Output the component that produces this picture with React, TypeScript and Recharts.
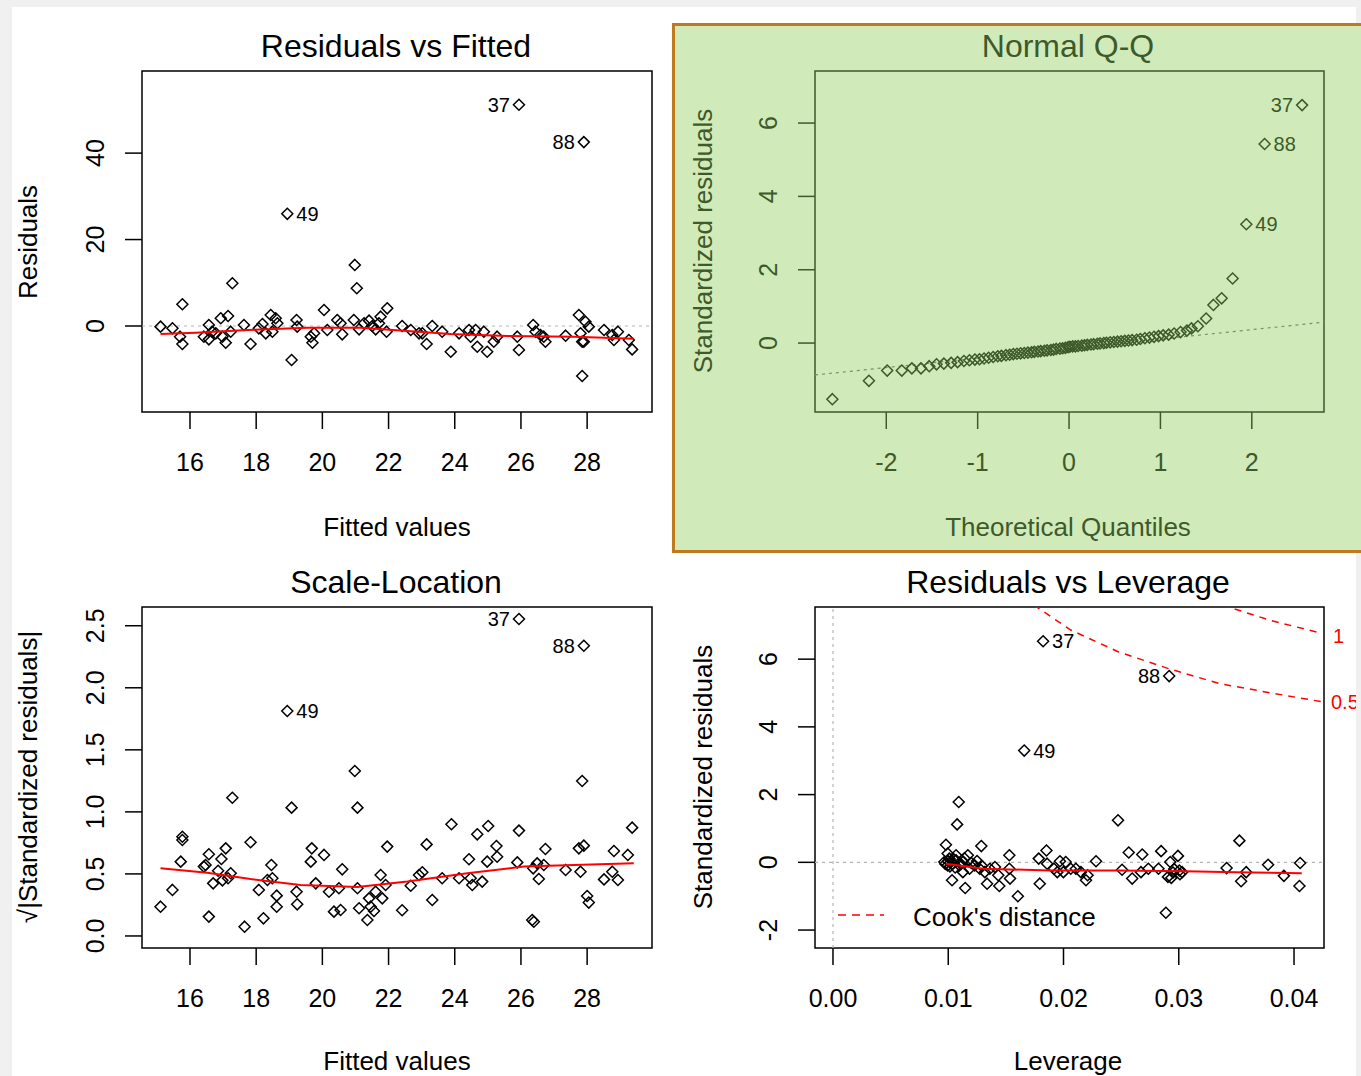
import React from 'react';
import { ScatterChart, Scatter, XAxis, YAxis, ReferenceLine, ReferenceArea } from 'recharts';

const FONT = '"Liberation Sans", Arial, Helvetica, sans-serif';
const outlierIds = ['37', '88', '49'];

// Residuals vs Fitted
const rfFitted = [15.11, 15.47, 15.70, 15.77, 15.77, 16.42, 16.57, 16.57, 16.67, 16.78, 16.93, 16.98, 17.08, 17.15, 17.23, 17.28, 17.63, 17.83, 18.08, 18.19, 18.29, 18.44, 18.49, 18.59, 18.64, 19.07, 19.22, 19.24, 19.65, 19.70, 19.75, 20.05, 20.15, 20.45, 20.55, 20.60, 20.95, 20.98, 21.04, 21.11, 21.26, 21.41, 21.51, 21.61, 21.71, 21.76, 21.94, 21.96, 22.41, 22.67, 22.92, 23.02, 23.15, 23.32, 23.62, 23.88, 24.13, 24.43, 24.48, 24.63, 24.68, 24.88, 24.98, 25.18, 25.28, 25.89, 25.94, 26.37, 26.44, 26.59, 26.69, 26.74, 27.35, 27.75, 27.80, 27.85, 27.90, 27.95, 28.05, 27.85, 28.51, 28.76, 28.81, 28.93, 29.26, 29.36];
const rfResid = [-0.15, -0.54, -2.47, -4.17, 5.02, -2.47, 0.23, -3.09, -1.31, -1.70, 1.78, -2.47, -3.86, 2.32, -1.31, 9.88, 0.23, -4.17, -0.54, 0.46, -1.70, 2.55, -1.31, 1.78, 0.62, -7.88, 1.39, -0.15, -2.47, -3.86, -1.70, 3.71, -0.93, 1.39, 0.62, -1.93, 1.39, 14.13, 8.73, -0.77, 0.62, 1.24, 0, -0.77, 0.62, 2.16, -1.31, 4.09, 0, -0.93, -1.70, -1.70, -4.17, 0, -1.31, -5.95, -1.70, -0.93, -2.47, -0.93, -4.79, -1.31, -5.95, -3.63, -2.47, -2.47, -5.56, 0.23, -1.31, -2.08, -2.47, -3.63, -2.24, 2.55, -1.70, -3.63, -3.63, 1.00, -0.15, -11.58, -0.93, -2.08, -3.24, -1.31, -3.24, -5.41];
const rfOutX = [25.94, 27.90, 18.94];
const rfOutY = [51.2, 42.55, 25.95];
const rfSmoothX = [15.11, 16.17, 17.73, 19.54, 21.16, 22.57, 23.88, 25.59, 27.60, 29.41];
const rfSmoothY = [-1.85, -1.54, -0.93, -0.39, -0.39, -1.16, -1.85, -2.32, -2.47, -2.93];

// Normal Q-Q
const qqTheo = [-2.59, -2.19, -1.99, -1.83, -1.72, -1.62, -1.53, -1.45, -1.37, -1.29, -1.22, -1.15, -1.09, -1.03, -0.98, -0.93, -0.88, -0.83, -0.78, -0.74, -0.69, -0.65, -0.61, -0.57, -0.53, -0.49, -0.45, -0.41, -0.38, -0.34, -0.31, -0.27, -0.24, -0.20, -0.17, -0.14, -0.10, -0.07, -0.04, -0.01, 0.01, 0.04, 0.07, 0.10, 0.14, 0.17, 0.20, 0.24, 0.27, 0.31, 0.34, 0.38, 0.41, 0.45, 0.49, 0.53, 0.57, 0.61, 0.65, 0.69, 0.74, 0.78, 0.83, 0.88, 0.93, 0.98, 1.03, 1.09, 1.15, 1.22, 1.29, 1.34, 1.41, 1.50, 1.58, 1.67, 1.79];
const qqStd = [-1.53, -1.03, -0.75, -0.75, -0.69, -0.69, -0.63, -0.58, -0.56, -0.54, -0.52, -0.49, -0.47, -0.45, -0.44, -0.42, -0.40, -0.38, -0.36, -0.35, -0.33, -0.32, -0.30, -0.29, -0.28, -0.27, -0.26, -0.25, -0.24, -0.23, -0.22, -0.21, -0.20, -0.19, -0.18, -0.16, -0.15, -0.14, -0.13, -0.11, -0.10, -0.09, -0.09, -0.08, -0.07, -0.06, -0.05, -0.04, -0.03, -0.02, -0.01, 0.00, 0.01, 0.02, 0.03, 0.04, 0.05, 0.06, 0.07, 0.08, 0.09, 0.11, 0.13, 0.15, 0.17, 0.19, 0.21, 0.23, 0.26, 0.30, 0.34, 0.40, 0.46, 0.67, 1.04, 1.22, 1.76];
const qqOutX = [2.55, 2.14, 1.94];
const qqOutY = [6.49, 5.43, 3.24];
const qqLineX = [-2.78, 2.79];
const qqLineY = [-0.87, 0.57];

// Scale-Location
const slFitted = [15.11, 15.47, 15.72, 15.77, 15.77, 16.42, 16.47, 16.57, 16.57, 16.70, 16.85, 16.95, 16.98, 17.08, 17.15, 17.23, 17.28, 17.65, 17.83, 18.08, 18.22, 18.34, 18.46, 18.49, 18.62, 18.62, 19.07, 19.22, 19.24, 19.65, 19.68, 19.80, 20.05, 20.20, 20.35, 20.50, 20.55, 20.60, 20.98, 21.06, 21.06, 21.11, 21.36, 21.41, 21.46, 21.56, 21.61, 21.76, 21.81, 21.91, 21.96, 22.41, 22.67, 22.92, 23.02, 23.15, 23.32, 23.62, 23.90, 24.13, 24.43, 24.48, 24.53, 24.68, 24.83, 24.98, 25.01, 25.26, 25.28, 25.89, 25.94, 26.34, 26.39, 26.37, 26.49, 26.54, 26.69, 26.74, 27.35, 27.75, 27.80, 27.85, 27.90, 28.00, 28.05, 28.51, 28.76, 28.81, 28.93, 29.23, 29.36];
const slValue = [0.236, 0.371, 0.599, 0.800, 0.773, 0.559, 0.572, 0.658, 0.156, 0.424, 0.526, 0.620, 0.448, 0.706, 0.465, 0.505, 1.114, 0.075, 0.755, 0.371, 0.142, 0.451, 0.572, 0.465, 0.325, 0.236, 1.034, 0.357, 0.255, 0.599, 0.706, 0.424, 0.653, 0.357, 0.196, 0.384, 0.209, 0.537, 1.329, 1.034, 0.384, 0.223, 0.129, 0.303, 0.236, 0.201, 0.357, 0.491, 0.303, 0.411, 0.720, 0.207, 0.405, 0.491, 0.513, 0.738, 0.290, 0.465, 0.900, 0.465, 0.618, 0.465, 0.411, 0.819, 0.438, 0.599, 0.886, 0.725, 0.639, 0.593, 0.849, 0.129, 0.115, 0.545, 0.585, 0.459, 0.572, 0.701, 0.532, 0.706, 0.518, 1.249, 0.728, 0.322, 0.269, 0.456, 0.518, 0.685, 0.451, 0.653, 0.873];
const slOutX = [25.94, 27.90, 18.94];
const slOutY = [2.554, 2.339, 1.813];
const slSmoothX = [15.11, 16.52, 17.83, 19.34, 21.06, 22.57, 24.38, 26.09, 27.60, 29.41];
const slSmoothY = [0.545, 0.510, 0.459, 0.411, 0.395, 0.438, 0.505, 0.559, 0.572, 0.585];

// Residuals vs Leverage
const lvLev = [0.00966, 0.00995, 0.01010, 0.01039, 0.01068, 0.01097, 0.01127, 0.01170, 0.01185, 0.01229, 0.01273, 0.01317, 0.01361, 0.01405, 0.01434, 0.01127, 0.00995, 0.01068, 0.00980, 0.01091, 0.01077, 0.01287, 0.01033, 0.01147, 0.01337, 0.01443, 0.01530, 0.01530, 0.01536, 0.01604, 0.01794, 0.01785, 0.01852, 0.01858, 0.01917, 0.01946, 0.01969, 0.01999, 0.02019, 0.02063, 0.02107, 0.02151, 0.02195, 0.02209, 0.02282, 0.02473, 0.02508, 0.02566, 0.02596, 0.02672, 0.02683, 0.02736, 0.02824, 0.02847, 0.02888, 0.02906, 0.02926, 0.02935, 0.02993, 0.03005, 0.03029, 0.03415, 0.03526, 0.03541, 0.03585, 0.03775, 0.03912, 0.04047, 0.04053, 0.00975, 0.01000, 0.01015, 0.01050, 0.01060, 0.01110, 0.01140, 0.01200, 0.01250, 0.01290, 0.02950, 0.02960, 0.03010];
const lvRes = [0.01, -0.09, 0.11, -0.04, 0.06, -0.09, 0.01, 0.21, -0.19, -0.09, -0.19, -0.29, -0.19, -0.14, -0.38, -0.29, 0.26, 0.21, 0.52, 1.78, 1.12, 0.48, -0.53, -0.76, -0.63, -0.70, 0.21, -0.19, -0.48, -1.00, -0.63, 0.11, 0.35, -0.04, -0.19, -0.29, 0.03, -0.29, 0.01, -0.19, -0.19, -0.29, -0.53, -0.38, 0.03, 1.24, -0.22, 0.29, -0.48, -0.29, 0.23, -0.19, -0.19, 0.33, -1.49, -0.43, 0.01, -0.46, 0.19, -0.24, -0.29, -0.17, 0.64, -0.56, -0.29, -0.07, -0.40, -0.70, -0.02, -0.05, 0.03, -0.12, 0.08, -0.15, -0.05, 0.12, -0.02, 0.04, -0.10, -0.30, -0.20, -0.35];
const lvOutX = [0.01823, 0.02917, 0.01659];
const lvOutY = [6.53, 5.50, 3.30];
const lvSmoothX = [0.00980, 0.01302, 0.01887, 0.02473, 0.03058, 0.03497, 0.04067];
const lvSmoothY = [-0.04, -0.19, -0.24, -0.24, -0.26, -0.29, -0.32];
const cookHalfX = [0.01741, 0.02063, 0.02473, 0.02912, 0.03350, 0.03789, 0.04243];
const cookHalfY = [7.60, 6.86, 6.22, 5.72, 5.28, 5.01, 4.74];
const cookOneX = [0.03380, 0.03424, 0.03789, 0.04243];
const cookOneY = [7.62, 7.55, 7.15, 6.76];

type Pt = { x: number; y: number; id?: string; side?: 'left' | 'right' };

function toPoints(xs: number[], ys: number[]): Pt[] {
  return xs.map((x, i) => ({ x, y: ys[i] }));
}

// label on the side away from the middle of the labelled points (as plot.lm does)
function toLabelled(xs: number[], ys: number[]): Pt[] {
  const mid = (Math.min(...xs) + Math.max(...xs)) / 2;
  return xs.map((x, i) => ({ x, y: ys[i], id: outlierIds[i], side: x > mid ? 'left' : 'right' }));
}

const Diamond = (color: string) => (props: any) => {
  const { cx, cy, payload } = props;
  if (cx == null || cy == null) return <g />;
  const r = 5.5;
  const left = payload?.side === 'left';
  return (
    <g>
      <path
        d={`M${cx},${cy - r}L${cx + r},${cy}L${cx},${cy + r}L${cx - r},${cy}Z`}
        fill="none"
        stroke={color}
        strokeWidth={1.5}
      />
      {payload?.id ? (
        <text
          x={left ? cx - 9 : cx + 9}
          y={cy + 7}
          textAnchor={left ? 'end' : 'start'}
          fontSize={20}
          fontFamily={FONT}
          fill={color}
        >
          {payload.id}
        </text>
      ) : null}
    </g>
  );
};

const NoShape = () => <g />;

const L = 130;
const T = 20;
const R = 40;
const B = 90;

type PanelProps = {
  left: number;
  top: number;
  width: number;
  height: number;
  xDomain: [number, number];
  yDomain: [number, number];
  xTicks: number[];
  yTicks: number[];
  xFmt?: (v: number) => string;
  yFmt?: (v: number) => string;
  ink: string;
  children?: React.ReactNode;
};

function Panel({ left, top, width, height, xDomain, yDomain, xTicks, yTicks, xFmt = String, yFmt = String, ink, children }: PanelProps) {
  const xTick = (p: any) => (
    <text x={p.x} y={p.y + 40} textAnchor="middle" fontSize={25} fontFamily={FONT} fill={ink}>
      {xFmt(p.payload.value)}
    </text>
  );
  const yTick = (p: any) => {
    const x = p.x - 19;
    const y = p.y;
    return (
      <text x={x} y={y} transform={`rotate(-90 ${x} ${y})`} textAnchor="middle" fontSize={25} fontFamily={FONT} fill={ink}>
        {yFmt(p.payload.value)}
      </text>
    );
  };
  return (
    <div style={{ position: 'absolute', left: left - L, top: top - T }}>
      <ScatterChart width={L + width + R} height={T + height + B} margin={{ top: T, right: R, left: 0, bottom: 0 }}>
        <XAxis
          type="number"
          dataKey="x"
          domain={xDomain}
          ticks={xTicks}
          interval={0}
          allowDataOverflow
          axisLine={false}
          tickSize={17}
          tickMargin={2}
          tickLine={{ stroke: ink, strokeWidth: 1.5 }}
          tick={xTick}
          height={B}
        />
        <YAxis
          type="number"
          dataKey="y"
          domain={yDomain}
          ticks={yTicks}
          interval={0}
          allowDataOverflow
          axisLine={false}
          tickSize={17}
          tickMargin={2}
          tickLine={{ stroke: ink, strokeWidth: 1.5 }}
          tick={yTick}
          width={L}
        />
        {children}
        <ReferenceArea
          x1={xDomain[0]}
          x2={xDomain[1]}
          y1={yDomain[0]}
          y2={yDomain[1]}
          fill="none"
          fillOpacity={0}
          stroke={ink}
          strokeWidth={1.5}
          ifOverflow="visible"
        />
      </ScatterChart>
    </div>
  );
}

const Label = ({ x, y, size, color = '#000', rotate = false, children }: any) => (
  <div
    style={{
      position: 'absolute',
      left: x,
      top: y,
      transform: `translate(-50%, -50%)${rotate ? ' rotate(-90deg)' : ''}`,
      fontSize: size,
      color,
      whiteSpace: 'nowrap',
      lineHeight: 1,
    }}
  >
    {children}
  </div>
);

const QQ_INK = '#3e5a2a';
const GRID = '#b5b5b5';

export default function App() {
  return (
    <div
      style={{
        position: 'absolute',
        left: 0,
        top: 0,
        width: 1361,
        height: 1076,
        background: '#f0f0f0',
        overflow: 'hidden',
        fontFamily: FONT,
      }}
    >
      <div style={{ position: 'absolute', left: 12, top: 7, width: 1344, height: 1069, background: '#fff', overflow: 'hidden' }}>
        <div style={{ position: 'absolute', left: -12, top: -7, width: 1361, height: 1076 }}>
          {/* Residuals vs Fitted */}
          <Label x={396} y={46} size={32}>Residuals vs Fitted</Label>
          <Label x={397} y={527} size={26}>Fitted values</Label>
          <Label x={28} y={242} size={26} rotate>Residuals</Label>
          <Panel
            left={142}
            top={71}
            width={510}
            height={341}
            xDomain={[14.55, 29.96]}
            yDomain={[-19.9, 59.0]}
            xTicks={[16, 18, 20, 22, 24, 26, 28]}
            yTicks={[0, 20, 40]}
            ink="#000"
          >
            <ReferenceLine y={0} stroke={GRID} strokeDasharray="3 4" strokeWidth={1.2} />
            <Scatter data={toPoints(rfFitted, rfResid)} shape={Diamond('#000')} isAnimationActive={false} />
            <Scatter data={toLabelled(rfOutX, rfOutY)} shape={Diamond('#000')} isAnimationActive={false} />
            <Scatter data={toPoints(rfSmoothX, rfSmoothY)} shape={NoShape} line={{ stroke: '#ff0000', strokeWidth: 2 }} isAnimationActive={false} />
          </Panel>

          {/* Scale-Location */}
          <Label x={396} y={582} size={32}>Scale-Location</Label>
          <Label x={397} y={1061} size={26}>Fitted values</Label>
          <Label x={28} y={777} size={26} rotate>√|Standardized residuals|</Label>
          <Panel
            left={142}
            top={607}
            width={510}
            height={341}
            xDomain={[14.55, 29.96]}
            yDomain={[-0.097, 2.651]}
            xTicks={[16, 18, 20, 22, 24, 26, 28]}
            yTicks={[0, 0.5, 1, 1.5, 2, 2.5]}
            yFmt={(v) => v.toFixed(1)}
            ink="#000"
          >
            <Scatter data={toPoints(slFitted, slValue)} shape={Diamond('#000')} isAnimationActive={false} />
            <Scatter data={toLabelled(slOutX, slOutY)} shape={Diamond('#000')} isAnimationActive={false} />
            <Scatter data={toPoints(slSmoothX, slSmoothY)} shape={NoShape} line={{ stroke: '#ff0000', strokeWidth: 2 }} isAnimationActive={false} />
          </Panel>

          {/* Residuals vs Leverage */}
          <Label x={1068} y={582} size={32}>Residuals vs Leverage</Label>
          <Label x={1068} y={1061} size={26}>Leverage</Label>
          <Label x={703} y={777} size={26} rotate>Standardized residuals</Label>
          <Panel
            left={815}
            top={607}
            width={509}
            height={341}
            xDomain={[-0.00156, 0.0426]}
            yDomain={[-2.53, 7.54]}
            xTicks={[0, 0.01, 0.02, 0.03, 0.04]}
            yTicks={[-2, 0, 2, 4, 6]}
            xFmt={(v) => v.toFixed(2)}
            ink="#000"
          >
            <ReferenceLine y={0} stroke={GRID} strokeDasharray="3 4" strokeWidth={1.2} />
            <ReferenceLine x={0} stroke={GRID} strokeDasharray="3 4" strokeWidth={1.2} />
            <Scatter data={toPoints(lvLev, lvRes)} shape={Diamond('#000')} isAnimationActive={false} />
            <Scatter data={toLabelled(lvOutX, lvOutY)} shape={Diamond('#000')} isAnimationActive={false} />
            <Scatter data={toPoints(lvSmoothX, lvSmoothY)} shape={NoShape} line={{ stroke: '#ff0000', strokeWidth: 2 }} isAnimationActive={false} />
            <Scatter data={toPoints(cookHalfX, cookHalfY)} shape={NoShape} line={{ stroke: '#ff0000', strokeWidth: 1.5, strokeDasharray: '7 6' }} isAnimationActive={false} />
            <Scatter data={toPoints(cookOneX, cookOneY)} shape={NoShape} line={{ stroke: '#ff0000', strokeWidth: 1.5, strokeDasharray: '7 6' }} isAnimationActive={false} />
          </Panel>
          <svg style={{ position: 'absolute', left: 836, top: 910 }} width={50} height={10}>
            <line x1={2} y1={5} x2={48} y2={5} stroke="#ff0000" strokeWidth={1.5} strokeDasharray="8 6" />
          </svg>
          <div style={{ position: 'absolute', left: 913, top: 904, fontSize: 26, lineHeight: 1, whiteSpace: 'nowrap' }}>Cook's distance</div>
          <div style={{ position: 'absolute', left: 1333, top: 626, fontSize: 20, lineHeight: 1, color: '#ff0000' }}>1</div>
          <div style={{ position: 'absolute', left: 1331, top: 692, fontSize: 20, lineHeight: 1, color: '#ff0000' }}>0.5</div>
        </div>
      </div>

      {/* Normal Q-Q */}
      <div
        style={{
          position: 'absolute',
          left: 672,
          top: 23,
          width: 689,
          height: 530,
          boxSizing: 'border-box',
          background: '#d1eab9',
          borderTop: '3px solid #bf7a20',
          borderLeft: '3px solid #bf7a20',
          borderBottom: '3px solid #bf7a20',
        }}
      />
      <Label x={1068} y={46} size={32} color={QQ_INK}>Normal Q-Q</Label>
      <Label x={1068} y={527} size={26} color={QQ_INK}>Theoretical Quantiles</Label>
      <Label x={703} y={241} size={26} color={QQ_INK} rotate>Standardized residuals</Label>
      <Panel
        left={815}
        top={71}
        width={509}
        height={341}
        xDomain={[-2.78, 2.79]}
        yDomain={[-1.88, 7.42]}
        xTicks={[-2, -1, 0, 1, 2]}
        yTicks={[0, 2, 4, 6]}
        ink={QQ_INK}
      >
        <Scatter data={toPoints(qqLineX, qqLineY)} shape={NoShape} line={{ stroke: '#7c9068', strokeWidth: 1.2, strokeDasharray: '3 4' }} isAnimationActive={false} />
        <Scatter data={toPoints(qqTheo, qqStd)} shape={Diamond(QQ_INK)} isAnimationActive={false} />
        <Scatter data={toLabelled(qqOutX, qqOutY)} shape={Diamond(QQ_INK)} isAnimationActive={false} />
      </Panel>
    </div>
  );
}
